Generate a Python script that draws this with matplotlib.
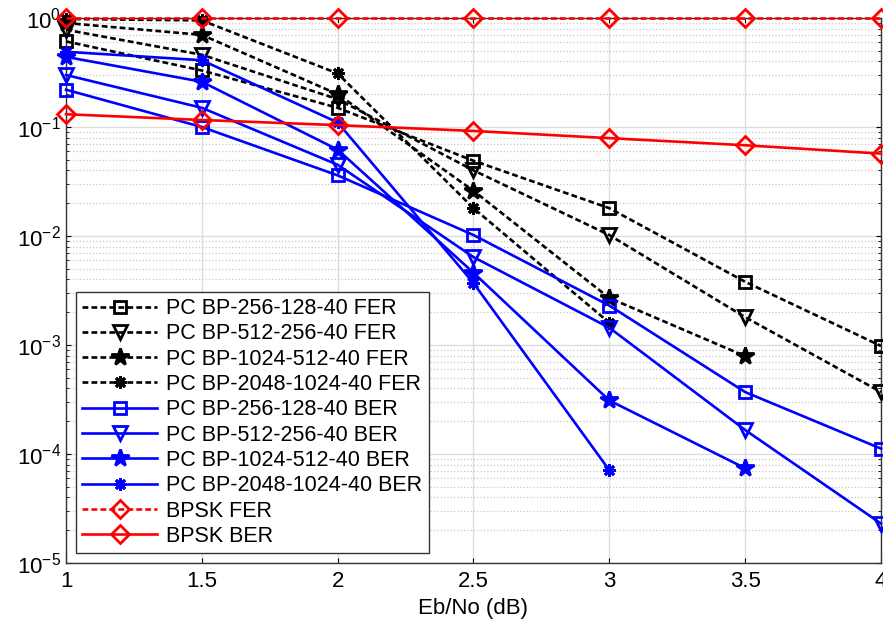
import matplotlib
matplotlib.use("Agg")
import matplotlib.pyplot as plt

plt.rcParams['font.family'] = ['Liberation Sans', 'DejaVu Sans']
plt.rcParams['mathtext.fontset'] = 'custom'
plt.rcParams['mathtext.rm'] = 'Liberation Sans'
plt.rcParams['mathtext.it'] = 'Liberation Sans'

ebno = [1, 1.5, 2, 2.5, 3, 3.5, 4]

# FER curves (black, dotted)
fer_256 = [0.61, 0.33, 0.15, 0.049, 0.018, 0.0038, 0.00098]
fer_512 = [0.78, 0.46, 0.18, 0.040, 0.0102, 0.0018, 0.00037]
fer_1024 = [0.90, 0.70, 0.20, 0.026, 0.0027, 0.00079]
fer_2048 = [0.98, 0.95, 0.31, 0.018, 0.0016]

# BER curves (blue, solid)
ber_256 = [0.22, 0.10, 0.036, 0.0102, 0.0023, 0.00037, 0.000112]
ber_512 = [0.30, 0.15, 0.045, 0.0064, 0.00144, 0.000166, 0.000023]
ber_1024 = [0.44, 0.26, 0.062, 0.0046, 0.00031, 0.000074]
ber_2048 = [0.49, 0.41, 0.11, 0.0037, 0.000071]

# uncoded BPSK
bpsk_fer = [1, 1, 1, 1, 1, 1, 1]
bpsk_ber = [0.131, 0.116, 0.104, 0.092, 0.079, 0.068, 0.057]

fig = plt.figure(figsize=(8.83, 6.29), dpi=100)
ax = fig.add_axes([66/883, 1 - 563/629, 815/883, 545/629])

dot = (0, (2.2, 1.2))
lw = 1.9
ms = 9
curves = [
    (fer_256, 'k', dot, 's', 'PC BP-256-128-40 FER', ms),
    (fer_512, 'k', dot, 'v', 'PC BP-512-256-40 FER', ms + 1),
    (fer_1024, 'k', dot, '*', 'PC BP-1024-512-40 FER', ms + 4),
    (fer_2048, 'k', dot, (8, 2, 0), 'PC BP-2048-1024-40 FER', ms),
    (ber_256, 'b', '-', 's', 'PC BP-256-128-40 BER', ms),
    (ber_512, 'b', '-', 'v', 'PC BP-512-256-40 BER', ms + 1),
    (ber_1024, 'b', '-', '*', 'PC BP-1024-512-40 BER', ms + 4),
    (ber_2048, 'b', '-', (8, 2, 0), 'PC BP-2048-1024-40 BER', ms),
    (bpsk_fer, 'r', dot, 'D', 'BPSK FER', ms),
    (bpsk_ber, 'r', '-', 'D', 'BPSK BER', ms),
]

for vals, col, ls, mk, lab, size in curves:
    filled = mk in ('*', (8, 2, 0))
    ax.plot(ebno[:len(vals)], vals, color=col, linestyle=ls, linewidth=lw,
            marker=mk, markersize=size, markeredgewidth=2,
            markerfacecolor=col if filled else 'none',
            label=lab, clip_on=False, zorder=3)

ax.set_yscale('log')
ax.set_ylim(1e-5, 1)
ax.set_xlim(1, 4)
ax.set_xticks(ebno)
ax.set_xticklabels(['1', '1.5', '2', '2.5', '3', '3.5', '4'])
ax.set_yticks([1e-5, 1e-4, 1e-3, 1e-2, 1e-1, 1])

ax.grid(True, which='major', color='#dcdcdc', linewidth=1)
ax.grid(True, which='minor', axis='y', color='#c8c8c8', linestyle=':', linewidth=0.9)
ax.set_axisbelow(True)
ax.tick_params(which='both', direction='in', top=True, right=True, labelsize=16)
ax.tick_params(axis='x', pad=6)
for s in ax.spines.values():
    s.set_color('#333333')
    s.set_linewidth(1)

ax.set_xlabel('Eb/No (dB)', fontsize=16, labelpad=4)

leg = ax.legend(loc='lower left', bbox_to_anchor=(0.0, 0.0), fontsize=15.5,
                handlelength=3.5, labelspacing=0.2, borderpad=0.3,
                handletextpad=0.4, fancybox=False, framealpha=1,
                edgecolor='#333333', borderaxespad=0.45)
leg.get_frame().set_linewidth(1)

fig.savefig('out.png', dpi=100)
